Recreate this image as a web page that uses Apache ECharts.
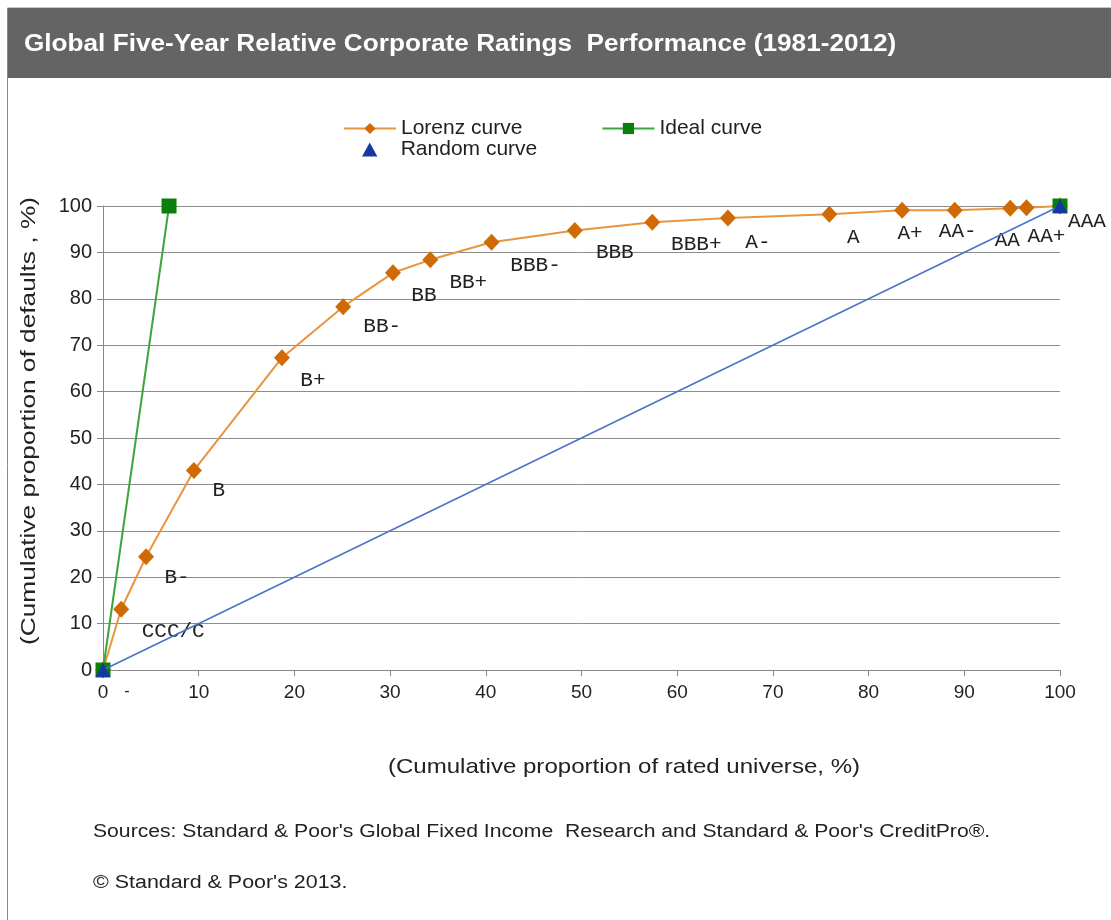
<!DOCTYPE html>
<html><head><meta charset="utf-8">
<script src="https://cdn.jsdelivr.net/npm/echarts@6/dist/echarts.min.js"></script>
<style>html,body{margin:0;padding:0;background:#fff}#c{width:1111px;height:920px}</style>
</head><body><div id="c"></div>
<script>
// ---- data ----
const ratings = ['', 'CCC/C', 'B-', 'B', 'B+', 'BB-', 'BB', 'BB+', 'BBB-', 'BBB', 'BBB+', 'A-', 'A', 'A+', 'AA-', 'AA', 'AA+', 'AAA'];
const lorenzX = [0, 1.9, 4.5, 9.5, 18.7, 25.1, 30.3, 34.2, 40.6, 49.3, 57.4, 65.3, 75.9, 83.5, 89.0, 94.8, 96.5, 100];
const lorenzY = [0, 13.1, 24.4, 43.0, 67.3, 78.3, 85.6, 88.4, 92.2, 94.7, 96.5, 97.4, 98.2, 99.1, 99.1, 99.5, 99.6, 100];
const idealX = [0, 6.9, 100];
const idealY = [0, 100, 100];
const randomX = [0, 100];
const randomY = [0, 100];
const xTicks = [0, 10, 20, 30, 40, 50, 60, 70, 80, 90, 100];
const yTicks = [0, 10, 20, 30, 40, 50, 60, 70, 80, 90, 100];

// ---- label layout (pixel offsets of rating labels from their points) ----
const labelOffsets = [[0,0],[52,22],[31,21],[25,20],[31,23],[39,20],[31,23],[38,23],[44,23],[40,22],[44,22],[30,24],[24,23],[8,23],[3,21],[-3,32],[20,29],[27,15]];

const lorenzData = lorenzX.map((x, i) => ({
  value: [x, lorenzY[i]],
  label: {
    show: ratings[i] !== '',
    formatter: ratings[i],
    position: 'inside',
    offset: labelOffsets[i]
  }
}));
// Ideal curve: the flat part along 100 is not drawn in the reference, only its end marker
const idealData = [];
idealX.forEach((x, i) => {
  if (i === 2) idealData.push(['-', '-']);
  idealData.push([x, idealY[i]]);
});
const randomData = randomX.map((x, i) => [x, randomY[i]]);

const chart = echarts.init(document.getElementById('c'), null, {renderer: 'canvas'});
const font = 'Liberation Sans, Arial, sans-serif';
chart.setOption({
  animation: false,
  backgroundColor: '#ffffff',
  graphic: [
    {type: 'rect', shape: {x: 7.5, y: 8, width: 1110, height: 920}, style: {fill: '#fff', stroke: '#8a8a8a', lineWidth: 1}, z: -10},
    {type: 'rect', shape: {x: 8, y: 8, width: 1103, height: 70}, style: {fill: '#646464'}, z: -5},
    {type: 'text', x: 24, y: 44, scaleX: 1.09, style: {text: 'Global Five-Year Relative Corporate Ratings  Performance (1981-2012)', font: 'bold 24px ' + font, fill: '#ffffff', verticalAlign: 'middle'}},
    {type: 'text', x: 29, y: 421, rotation: Math.PI / 2, scaleX: 1.25, style: {text: '(Cumulative proportion of defaults , %)', font: '21px ' + font, fill: '#222', align: 'center', verticalAlign: 'middle'}},
    {type: 'text', x: 624, y: 767, scaleX: 1.146, style: {text: '(Cumulative proportion of rated universe, %)', font: '21px ' + font, fill: '#222', align: 'center', verticalAlign: 'middle'}},
    {type: 'text', x: 127, y: 692, style: {text: '-', font: '16px ' + font, fill: '#222', align: 'center', verticalAlign: 'middle'}},
    {type: 'text', x: 93, y: 832, scaleX: 1.175, style: {text: "Sources: Standard & Poor's Global Fixed Income  Research and Standard & Poor's CreditPro®.", font: '18px ' + font, fill: '#222', verticalAlign: 'middle'}},
    {type: 'text', x: 93, y: 883, scaleX: 1.19, style: {text: "© Standard & Poor's 2013.", font: '18px ' + font, fill: '#222', verticalAlign: 'middle'}}
  ],
  legend: [
    {
      left: 343, top: 118, padding: 0, itemWidth: 52, itemHeight: 14, itemGap: 79,
      data: ['Lorenz curve', 'Ideal curve'],
      textStyle: {fontFamily: font, fontSize: 21, color: '#222'}
    },
    {
      left: 362, top: 139, padding: 0, itemWidth: 52, itemHeight: 14,
      data: [{name: 'Random curve', icon: 'path://M0,10 L5.5,0 L11,10 Z'}],
      textStyle: {fontFamily: font, fontSize: 21, color: '#222'}
    }
  ],
  grid: {left: 103, right: 51, top: 206, bottom: 250, containLabel: false},
  xAxis: {
    type: 'value', min: xTicks[0], max: xTicks[xTicks.length - 1], interval: xTicks[1] - xTicks[0],
    axisLine: {lineStyle: {color: '#888', width: 1}},
    axisTick: {show: true, length: 6, lineStyle: {color: '#888'}},
    axisLabel: {fontFamily: font, fontSize: 19, color: '#222', margin: 13},
    splitLine: {show: false}
  },
  yAxis: {
    type: 'value', min: yTicks[0], max: yTicks[yTicks.length - 1], interval: yTicks[1] - yTicks[0],
    axisLine: {show: true, lineStyle: {color: '#888', width: 1}},
    axisTick: {show: true, length: 6, lineStyle: {color: '#888'}},
    axisLabel: {fontFamily: font, fontSize: 20, color: '#222', margin: 11},
    splitLine: {show: true, lineStyle: {color: '#8c8c8c', width: 1}}
  },
  series: [
    {
      name: 'Lorenz curve', type: 'line', data: lorenzData,
      symbol: 'diamond', symbolSize: [16, 17],
      lineStyle: {color: '#E8953F', width: 2},
      itemStyle: {color: '#D06A05'},
      label: {fontFamily: 'Liberation Mono, Courier New, monospace', fontSize: 21, color: '#222'},
      z: 2
    },
    {
      name: 'Ideal curve', type: 'line', data: idealData, connectNulls: false,
      symbol: 'rect', symbolSize: 15,
      lineStyle: {color: '#3CA63C', width: 2},
      itemStyle: {color: '#0A7F0A'},
      z: 3
    },
    {
      name: 'Random curve', type: 'line', data: randomData,
      symbol: 'triangle', symbolSize: [15, 14],
      lineStyle: {color: '#4A72C8', width: 1.6},
      itemStyle: {color: '#1539A0'},
      z: 4
    }
  ]
});
</script></body></html>
